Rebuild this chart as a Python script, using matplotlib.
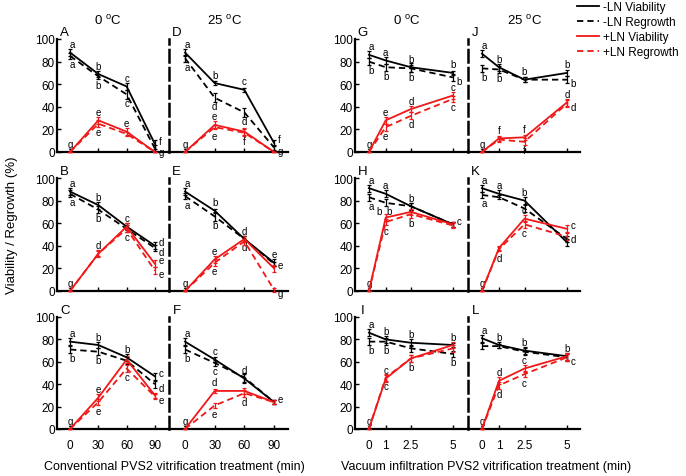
import matplotlib
matplotlib.use('Agg')
import matplotlib.pyplot as plt
from matplotlib.lines import Line2D

plt.rcParams['font.family'] = ['Liberation Sans', 'DejaVu Sans']
plt.rcParams['mathtext.fontset'] = 'custom'
plt.rcParams['mathtext.rm'] = 'Liberation Sans'
plt.rcParams['mathtext.it'] = 'Liberation Sans:italic'

# ---------------- data ----------------
conv_time = [0, 30, 60, 90]
vac_time = [0, 1, 2.5, 5]
conv_ticklabels = ['0', '30', '60', '90']
vac_ticklabels = ['0', '1', '2.5', '5']
y_ticks = [0, 20, 40, 60, 80, 100]
series_names = ['-LN Viability', '-LN Regrowth', '+LN Viability', '+LN Regrowth']
col_titles = ['0 $^{\\mathrm{o}}$C', '25 $^{\\mathrm{o}}$C', '0 $^{\\mathrm{o}}$C', '25 $^{\\mathrm{o}}$C']

# order in each panel: -LN viability, -LN regrowth, +LN viability, +LN regrowth
A_neg_via = [88, 69, 58, 7]
A_neg_reg = [85, 67, 51, 3]
A_pos_via = [0, 28, 18, 0]
A_pos_reg = [0, 25, 16, 0]
A_letters = ['abcf', 'abcg', 'gee-', '-e--']

D_neg_via = [88, 61, 55, 8]
D_neg_reg = [83, 48, 35, 4]
D_pos_via = [0, 24, 18, 0]
D_pos_reg = [0, 22, 17, 0]
D_letters = ['abcf', 'addg', 'ge--', '-ef-']

B_neg_via = [88, 76, 57, 40]
B_neg_reg = [86, 72, 55, 38]
B_pos_via = [0, 33, 57, 24]
B_pos_reg = [0, 33, 55, 18]
B_letters = ['abcd', 'abcd', 'gd-e', '---e']

E_neg_via = [88, 71, 46, 25]
E_neg_reg = [84, 66, 46, 24]
E_pos_via = [0, 28, 46, 20]
E_pos_reg = [0, 25, 44, 1]
E_letters = ['abde', 'abd-', 'ge-e', '-e-g']

C_neg_via = [78, 75, 64, 47]
C_neg_reg = [71, 69, 61, 40]
C_pos_via = [0, 28, 62, 30]
C_pos_reg = [0, 24, 54, 29]
C_letters = ['abbc', 'bb-d', 'ge--', '-ece']

F_neg_via = [78, 62, 45, 24]
F_neg_reg = [71, 59, 46, 24]
F_pos_via = [0, 34, 34, 24]
F_pos_reg = [0, 21, 32, 24]
F_letters = ['acd-', 'bc--', 'gd-e', '-ed-']

G_neg_via = [86, 81, 75, 70]
G_neg_reg = [80, 75, 74, 66]
G_pos_via = [0, 28, 38, 50]
G_pos_reg = [0, 22, 32, 47]
G_letters = ['aabb', 'bbbb', 'gedc', '-edc']

J_neg_via = [87, 75, 64, 70]
J_neg_reg = [74, 73, 64, 64]
J_pos_via = [0, 12, 13, 44]
J_pos_reg = [0, 11, 9, 43]
J_letters = ['abbb', 'bb-b', 'gffd', '--fd']

H_neg_via = [91, 86, 75, 59]
H_neg_reg = [83, 78, 75, 59]
H_pos_via = [0, 65, 70, 59]
H_pos_reg = [0, 61, 68, 58]
H_letters = ['aabc', 'ab--', 'gb--', '-cb-']

K_neg_via = [91, 86, 80, 43]
K_neg_reg = [85, 83, 73, 46]
K_pos_via = [0, 38, 64, 55]
K_pos_reg = [0, 37, 59, 48]
K_letters = ['aabd', 'a---', 'g-cc', '-dc-']

I_neg_via = [86, 80, 77, 75]
I_neg_reg = [78, 78, 72, 67]
I_pos_via = [0, 45, 63, 75]
I_pos_reg = [0, 46, 63, 72]
I_letters = ['abbb', 'bb-b', 'gc--', '-cb-']

L_neg_via = [81, 75, 70, 65]
L_neg_reg = [74, 74, 69, 64]
L_pos_via = [0, 43, 54, 65]
L_pos_reg = [0, 39, 49, 64]
L_letters = ['abbb', '----', 'gdc-', '-dcc']

# error bar half-lengths per panel (same order of series)
A_err = [[3, 3, 3, 4], [3, 2, 4, 3], [0, 3, 3, 0], [0, 3, 2, 0]]
D_err = [[3, 2, 2, 3], [3, 4, 4, 2], [0, 3, 3, 0], [0, 2, 3, 0]]
B_err = [[3, 3, 3, 3], [3, 3, 3, 3], [0, 3, 3, 3], [0, 2, 3, 3]]
E_err = [[3, 2, 3, 3], [3, 4, 3, 2], [0, 3, 3, 3], [0, 3, 3, 2]]
C_err = [[3, 3, 3, 3], [3, 3, 3, 3], [0, 3, 3, 2], [0, 3, 3, 2]]
F_err = [[3, 2, 4, 2], [3, 3, 4, 2], [0, 2, 3, 2], [0, 2, 3, 2]]
G_err = [[3, 3, 4, 2], [3, 3, 3, 3], [0, 3, 3, 3], [0, 3, 3, 3]]
J_err = [[3, 3, 2, 3], [3, 3, 2, 3], [0, 2, 2, 3], [0, 2, 3, 3]]
H_err = [[3, 3, 3, 2], [3, 3, 3, 2], [0, 3, 3, 2], [0, 3, 3, 2]]
K_err = [[3, 3, 3, 3], [3, 2, 3, 3], [0, 2, 3, 3], [0, 2, 3, 3]]
I_err = [[3, 3, 3, 2], [3, 3, 3, 3], [0, 3, 3, 3], [0, 3, 3, 3]]
L_err = [[3, 3, 3, 3], [3, 2, 3, 3], [0, 3, 3, 3], [0, 3, 3, 3]]

# where the letter of the last point sits: r = right of point, c = centred above/below
A_last = 'rrrr'
D_last = 'rrrr'
B_last = 'rrrr'
E_last = 'crrr'
C_last = 'rrrr'
F_last = 'rrrr'
G_last = 'crcc'
J_last = 'crcr'
H_last = 'rrrr'
K_last = 'rrrr'
I_last = 'cccc'
L_last = 'ccrr'

# a few letters sit beside their point in the original: (series, point) -> shift in points
H_nudge = {(2, 1): (-4.5, -1.5), (1, 1): (2.5, 0.5)}

panels = {
    'A': ([A_neg_via, A_neg_reg, A_pos_via, A_pos_reg], A_err, A_letters, A_last),
    'B': ([B_neg_via, B_neg_reg, B_pos_via, B_pos_reg], B_err, B_letters, B_last),
    'C': ([C_neg_via, C_neg_reg, C_pos_via, C_pos_reg], C_err, C_letters, C_last),
    'D': ([D_neg_via, D_neg_reg, D_pos_via, D_pos_reg], D_err, D_letters, D_last),
    'E': ([E_neg_via, E_neg_reg, E_pos_via, E_pos_reg], E_err, E_letters, E_last),
    'F': ([F_neg_via, F_neg_reg, F_pos_via, F_pos_reg], F_err, F_letters, F_last),
    'G': ([G_neg_via, G_neg_reg, G_pos_via, G_pos_reg], G_err, G_letters, G_last),
    'H': ([H_neg_via, H_neg_reg, H_pos_via, H_pos_reg], H_err, H_letters, H_last),
    'I': ([I_neg_via, I_neg_reg, I_pos_via, I_pos_reg], I_err, I_letters, I_last),
    'J': ([J_neg_via, J_neg_reg, J_pos_via, J_pos_reg], J_err, J_letters, J_last),
    'K': ([K_neg_via, K_neg_reg, K_pos_via, K_pos_reg], K_err, K_letters, K_last),
    'L': ([L_neg_via, L_neg_reg, L_pos_via, L_pos_reg], L_err, L_letters, L_last),
}
nudges = {'H': H_nudge}

# ---------------- layout ----------------
W, H = 686, 477
fig = plt.figure(figsize=(W / 100, H / 100), dpi=100)

RED = '#f01818'
styles = [('black', '-'), ('black', (0, (3.5, 2.2))), (RED, '-'), (RED, (0, (3.5, 2.2)))]

# columns: (left px, right px, xlim, times, ticklabels, first column?)
columns = [
    (57, 169, (-13.8, 104.9), conv_time, conv_ticklabels, True),
    (169, 288, (-16.2, 104.1), conv_time, conv_ticklabels, False),
    (355, 468, (-0.83, 5.9), vac_time, vac_ticklabels, True),
    (468, 580, (-0.82, 5.76), vac_time, vac_ticklabels, False),
]
rows = [(40, 153), (179, 292), (318, 430)]
grid = [['A', 'D', 'G', 'J'], ['B', 'E', 'H', 'K'], ['C', 'F', 'I', 'L']]


def rect(l, r, t, b):
    return [l / W, 1 - b / H, (r - l) / W, (b - t) / H]


for ri, (top, bot) in enumerate(rows):
    for ci, (l, r, xl, times, tlabels, first) in enumerate(columns):
        name = grid[ri][ci]
        vals, errs, letters, lastpos = panels[name]
        nudge = nudges.get(name, {})
        ax = fig.add_axes(rect(l, r, top, bot))
        ax.set_xlim(*xl)
        ax.set_ylim(0, 100)
        ax.patch.set_alpha(0)
        for s in ('top', 'right'):
            ax.spines[s].set_visible(False)
        ax.spines['bottom'].set_linewidth(1.6)
        if first:
            ax.spines['left'].set_linewidth(1.6)
            ax.set_yticks(y_ticks)
            ax.tick_params(axis='y', direction='in', length=3, width=1, pad=1.5, labelsize=8.5)
        else:
            ax.spines['left'].set_linewidth(1.8)
            ax.spines['left'].set_linestyle((0, (5, 2.2)))
            ax.set_yticks([])
        ax.set_xticks(times)
        if ri == 2:
            ax.set_xticklabels(tlabels)
        else:
            ax.set_xticklabels([])
        ax.tick_params(axis='x', direction='in', length=3, width=1, pad=7, labelsize=8.5)

        for si in range(4):
            col, ls = styles[si]
            cont = ax.errorbar(times, vals[si], yerr=errs[si], color=col, ls=ls, lw=1.3,
                               elinewidth=0.9, capsize=1.3, capthick=0.9, zorder=3)
            for art in cont.get_children():
                art.set_clip_on(False)
            above = si in (0, 2)
            for k, letter in enumerate(letters[si]):
                if letter == '-':
                    continue
                y = vals[si][k]
                if k == len(times) - 1 and lastpos[si] == 'r':
                    dx, ha, va = 2.5, 'left', 'center'
                    dy = 2.5 if above else -2.5
                else:
                    dx, ha = (1.5 if k == 0 and y > 50 else 0), 'center'
                    dy, va = (2.5, 'bottom') if above else (-2.5, 'top')
                ndx, ndy = nudge.get((si, k), (0, 0))
                ax.annotate(letter, (times[k], y), xytext=(dx + ndx, dy + ndy), textcoords='offset points',
                            ha=ha, va=va, fontsize=7, annotation_clip=False)
        ax.annotate(name, (0, 1), xycoords='axes fraction', xytext=(5.5, 5),
                    textcoords='offset points', ha='center', va='center', fontsize=9.5)

# column titles
for x_px, t in zip([108, 225, 407, 525], col_titles):
    fig.text(x_px / W, 1 - 21 / H, t, ha='center', va='center', fontsize=9.5)

fig.text(12 / W, 1 - 225 / H, 'Viability / Regrowth (%)', rotation=90, ha='center', va='center', fontsize=9.5)
fig.text(174 / W, 1 - 467 / H, 'Conventional PVS2 vitrification treatment (min)', ha='center', va='center', fontsize=9)
fig.text(486 / W, 1 - 467 / H, 'Vacuum infiltration PVS2 vitrification treatment (min)', ha='center', va='center', fontsize=9)

handles = [Line2D([], [], color=c, ls=ls, lw=1.3) for c, ls in styles]
fig.legend(handles, series_names, loc='upper right', bbox_to_anchor=(1.0, 1.01), frameon=False,
           fontsize=8.5, handlelength=1.8, handletextpad=0.4, labelspacing=0.25, borderaxespad=0.2)

fig.savefig('out.png', dpi=100)
